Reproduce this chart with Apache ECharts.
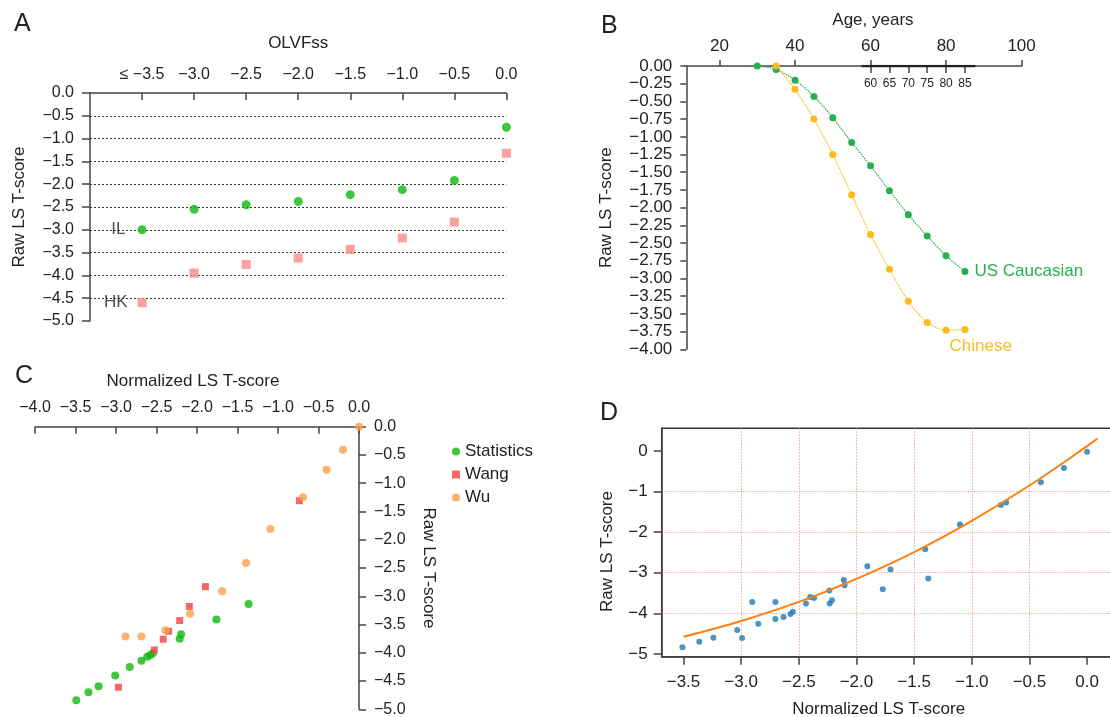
<!DOCTYPE html>
<html><head><meta charset="utf-8">
<script src="https://cdn.jsdelivr.net/npm/echarts@6.0.0/dist/echarts.min.js"></script>
<style>html,body{margin:0;padding:0;background:#fff}#chart{width:1110px;height:717px}</style>
</head><body><div id="chart"></div>
<script>
// ---------- Panel A ----------
const olvfssCategories = [-3.5, -3.0, -2.5, -2.0, -1.5, -1.0, -0.5, 0.0];
const ilValues = [-3.00, -2.55, -2.45, -2.38, -2.23, -2.12, -1.92, -0.75];
const hkValues = [-4.60, -3.95, -3.76, -3.62, -3.43, -3.18, -2.83, -1.32];
const panelAYTicks = [0, -0.5, -1.0, -1.5, -2.0, -2.5, -3.0, -3.5, -4.0, -4.5, -5.0];

// ---------- Panel B ----------
const usAges = [30, 35, 40, 45, 50, 55, 60, 65, 70, 75, 80, 85];
const usCaucasian = [0.00, -0.05, -0.20, -0.43, -0.73, -1.08, -1.41, -1.76, -2.10, -2.40, -2.68, -2.90];
const chineseAges = [35, 40, 45, 50, 55, 60, 65, 70, 75, 80, 85];
const chinese = [0.00, -0.33, -0.75, -1.25, -1.82, -2.38, -2.87, -3.32, -3.62, -3.73, -3.72];
const panelBXTicks = [20, 40, 60, 80, 100];
const panelBInsetTicks = [60, 65, 70, 75, 80, 85];
const panelBInsetSpan = [57.6, 87.7];
const panelBYTicks = [0, -0.25, -0.5, -0.75, -1, -1.25, -1.5, -1.75, -2, -2.25, -2.5, -2.75, -3, -3.25, -3.5, -3.75, -4];

// ---------- Panel C ----------
const statisticsX = [-3.49, -3.34, -3.215, -3.01, -2.83, -2.686, -2.615, -2.575, -2.545, -2.214, -2.196, -1.76, -1.363];
const statisticsY = [-4.84, -4.70, -4.59, -4.40, -4.25, -4.14, -4.07, -4.04, -4.01, -3.75, -3.67, -3.41, -3.135];
const wangX = [-2.97, -2.527, -2.417, -2.35, -2.214, -2.095, -1.896, -0.736];
const wangY = [-4.61, -3.95, -3.76, -3.62, -3.43, -3.18, -2.83, -1.31];
const wuX = [-2.884, -2.686, -2.39, -2.086, -1.69, -1.394, -1.094, -0.692, -0.40, -0.198, 0.0];
const wuY = [-3.71, -3.71, -3.60, -3.31, -2.91, -2.41, -1.81, -1.25, -0.76, -0.41, 0.0];
const panelCXTicks = [-4.0, -3.5, -3.0, -2.5, -2.0, -1.5, -1.0, -0.5, 0.0];
const panelCYTicks = [0, -0.5, -1.0, -1.5, -2.0, -2.5, -3.0, -3.5, -4.0, -4.5, -5.0];

// ---------- Panel D ----------
const dNormX = [-3.509, -3.363, -3.241, -3.034, -2.992, -2.904, -2.852, -2.703, -2.703, -2.633, -2.572, -2.551, -2.438, -2.402, -2.368, -2.235, -2.232, -2.213, -2.110, -2.103, -1.906, -1.772, -1.705, -1.404, -1.377, -1.103, -0.748, -0.702, -0.401, -0.201, 0.0];
const dRawY = [-4.84, -4.70, -4.60, -4.41, -4.61, -3.72, -4.26, -3.72, -4.14, -4.09, -4.02, -3.96, -3.76, -3.60, -3.62, -3.44, -3.76, -3.68, -3.18, -3.31, -2.84, -3.41, -2.92, -2.42, -3.14, -1.81, -1.33, -1.27, -0.77, -0.42, -0.02];
const fitX = [-3.5, -3.0, -2.5, -2.0, -1.5, -1.0, -0.5, 0.0, 0.09];
const fitY = [-4.58, -4.19, -3.72, -3.15, -2.49, -1.72, -0.85, 0.12, 0.31];
const panelDXTicks = [-3.5, -3.0, -2.5, -2.0, -1.5, -1.0, -0.5, 0.0];
const panelDYTicks = [0, -1, -2, -3, -4, -5];

const zip = (a, b) => a.map((v, i) => [v, b[i]]);
const fmt = d => v => (v < -1e-9 ? '\u2212' : '') + Math.abs(v).toFixed(d);
const FONT = 'Liberation Sans, Arial, Helvetica, sans-serif';
const TXT = '#222';
const AX = { show: true, onZero: false, lineStyle: { color: '#444', width: 1.5 } };
const TK = (len, inside, vals) => ({ show: true, inside: inside, length: len, customValues: vals, lineStyle: { color: '#444', width: 1.5 } });
const LB = (size, margin, vals, f) => ({ show: true, fontSize: size, color: TXT, margin: margin, customValues: vals, formatter: f, fontFamily: FONT });

const cA = '#0fb80f', cAred = '#f98a8a';
const cBg = '#25b04e', cBo = '#fbbb1a';
const cCg = '#10b810', cCr = '#f04444', cCo = '#fca04a';

const option = {
  animation: false,
  backgroundColor: '#fff',
  textStyle: { fontFamily: FONT, color: TXT },
  grid: [
    { left: 90, top: 93, width: 416.4, height: 228, outerBoundsMode: 'none' },
    { left: 686.3, top: 66, width: 335.3, height: 283.3, outerBoundsMode: 'none' },
    { left: 35, top: 426.7, width: 324, height: 282.6, outerBoundsMode: 'none' },
    { left: 661.7, top: 428.3, width: 460, height: 228.4, outerBoundsMode: 'none', show: true, borderColor: '#333', borderWidth: 1.5, backgroundColor: 'transparent' }
  ],
  xAxis: [
    { gridIndex: 0, type: 'value', position: 'top', min: -4, max: 0,
      name: 'OLVFss', nameLocation: 'middle', nameGap: 41, nameTextStyle: { fontSize: 17, color: TXT },
      axisLine: AX, axisTick: TK(7, true, olvfssCategories),
      axisLabel: LB(16, 10, olvfssCategories, v => v === olvfssCategories[0] ? '\u2264 ' + fmt(1)(v) : fmt(1)(v)),
      splitLine: { show: false } },
    { gridIndex: 1, type: 'value', position: 'top', min: 11.2, max: 100,
      name: 'Age, years', nameLocation: 'middle', nameGap: 37, nameTextStyle: { fontSize: 17, color: TXT, padding: [0, 0, 0, 38] },
      axisLine: AX, axisTick: TK(6, false, panelBXTicks),
      axisLabel: LB(17, 11, panelBXTicks, v => String(v)),
      splitLine: { show: false } },
    { gridIndex: 1, type: 'value', position: 'top', min: 11.2, max: 100,
      axisLine: { show: false, onZero: false }, axisTick: TK(7, true, panelBInsetTicks),
      axisLabel: Object.assign(LB(12, 12, panelBInsetTicks, v => String(v)), { inside: true }),
      splitLine: { show: false } },
    { gridIndex: 2, type: 'value', position: 'top', min: -4, max: 0, interval: 0.5,
      name: 'Normalized LS T-score', nameLocation: 'middle', nameGap: 37, nameTextStyle: { fontSize: 17, color: TXT, padding: [0, 8, 0, 0] },
      axisLine: AX, axisTick: TK(7, true, panelCXTicks),
      axisLabel: LB(16, 11, panelCXTicks, fmt(1)),
      splitLine: { show: false } },
    { gridIndex: 3, type: 'value', position: 'bottom', min: -3.689, max: 0.3,
      name: 'Normalized LS T-score', nameLocation: 'middle', nameGap: 44, nameTextStyle: { fontSize: 17, color: TXT, padding: [0, 26, 0, 0] },
      axisLine: AX, axisTick: TK(8, false, panelDXTicks),
      axisLabel: LB(17, 17, panelDXTicks, fmt(1)),
      splitLine: { show: true, showMinLine: false, showMaxLine: false, lineStyle: { color: '#f7a8a8', type: [1.5, 1.5], width: 1 } } }
  ],
  yAxis: [
    { gridIndex: 0, type: 'value', min: -5, max: 0, interval: 0.5,
      name: 'Raw LS T-score', nameLocation: 'middle', nameGap: 62, nameTextStyle: { fontSize: 17, color: TXT },
      axisLine: AX, axisTick: TK(8, false, panelAYTicks),
      axisLabel: LB(16, 16, panelAYTicks, fmt(1)),
      splitLine: { show: true, showMinLine: false, showMaxLine: false, lineStyle: { color: '#333', type: [2, 2], width: 1 } } },
    { gridIndex: 1, type: 'value', min: -4, max: 0, interval: 0.25,
      name: 'Raw LS T-score', nameLocation: 'middle', nameGap: 71, nameTextStyle: { fontSize: 17, color: TXT },
      axisLine: AX, axisTick: TK(6, false, panelBYTicks),
      axisLabel: LB(17, 14, panelBYTicks, fmt(2)),
      splitLine: { show: false } },
    { gridIndex: 2, type: 'value', position: 'right', min: -5, max: 0, interval: 0.5,
      name: 'Raw LS T-score', nameLocation: 'middle', nameGap: 61, nameRotate: -90, nameTextStyle: { fontSize: 17, color: TXT },
      axisLine: AX, axisTick: TK(7, false, panelCYTicks),
      axisLabel: LB(16, 15, panelCYTicks, fmt(1)),
      splitLine: { show: false } },
    { gridIndex: 3, type: 'value', min: -5.07, max: 0.56,
      name: 'Raw LS T-score', nameLocation: 'middle', nameGap: 46, nameTextStyle: { fontSize: 17, color: TXT, padding: [0, 18, 0, 0] },
      axisLine: AX, axisTick: TK(8, false, panelDYTicks),
      axisLabel: LB(17, 14, panelDYTicks, fmt(0)),
      splitLine: { show: true, showMinLine: false, showMaxLine: false, lineStyle: { color: '#f7a8a8', type: [1.5, 1.5], width: 1 } } }
  ],
  legend: {
    data: ['Statistics', 'Wang', 'Wu'], orient: 'vertical', left: 447, top: 438,
    itemWidth: 8, itemHeight: 8, itemGap: 6, textStyle: { fontSize: 17, color: TXT }
  },
  graphic: [
    { type: 'text', left: 14, top: 12, style: { text: 'A', fontSize: 25, fill: TXT, fontFamily: FONT } },
    { type: 'text', left: 601, top: 14, style: { text: 'B', fontSize: 25, fill: TXT, fontFamily: FONT } },
    { type: 'text', left: 15, top: 364, style: { text: 'C', fontSize: 25, fill: TXT, fontFamily: FONT } },
    { type: 'text', left: 600, top: 401, style: { text: 'D', fontSize: 25, fill: TXT, fontFamily: FONT } }
  ],
  series: [
    { name: 'IL', type: 'scatter', xAxisIndex: 0, yAxisIndex: 0, data: zip(olvfssCategories, ilValues),
      symbol: 'circle', symbolSize: 9, itemStyle: { color: cA },
      label: { show: true, position: 'left', distance: 12, fontSize: 17, color: TXT, formatter: p => p.dataIndex === 0 ? 'IL' : '' } },
    { name: 'HK', type: 'scatter', xAxisIndex: 0, yAxisIndex: 0, data: zip(olvfssCategories, hkValues),
      symbol: 'rect', symbolSize: 9, itemStyle: { color: cAred },
      label: { show: true, position: 'left', distance: 10, fontSize: 17, color: TXT, formatter: p => p.dataIndex === 0 ? 'HK' : '' } },
    { name: 'InsetAxis', type: 'line', xAxisIndex: 1, yAxisIndex: 1, data: panelBInsetSpan.map(v => [v, 0]),
      symbol: 'none', silent: true, lineStyle: { color: '#222', width: 2.5 }, z: 1 },
    { name: 'US Caucasian', type: 'line', xAxisIndex: 1, yAxisIndex: 1, data: zip(usAges, usCaucasian),
      smooth: 0.3, symbol: 'circle', symbolSize: 7, itemStyle: { color: cBg }, lineStyle: { color: cBg, width: 1.2, type: [1.5, 1] },
      label: { show: true, position: 'right', distance: 6, fontSize: 17, color: cBg, formatter: p => p.dataIndex === usAges.length - 1 ? 'US Caucasian' : '' } },
    { name: 'Chinese', type: 'line', xAxisIndex: 1, yAxisIndex: 1, data: zip(chineseAges, chinese),
      smooth: 0.3, symbol: 'circle', symbolSize: 7, itemStyle: { color: cBo }, lineStyle: { color: cBo, width: 1.2, type: [1.5, 1] },
      label: { show: true, position: [-12, 20], verticalAlign: 'middle', align: 'left', fontSize: 17, color: cBo, formatter: p => p.dataIndex === chineseAges.length - 1 ? 'Chinese' : '' } },
    { name: 'Statistics', type: 'scatter', xAxisIndex: 3, yAxisIndex: 2, data: zip(statisticsX, statisticsY),
      symbol: 'circle', symbolSize: 8, itemStyle: { color: cCg } },
    { name: 'Wang', type: 'scatter', xAxisIndex: 3, yAxisIndex: 2, data: zip(wangX, wangY),
      symbol: 'rect', symbolSize: 7, itemStyle: { color: cCr } },
    { name: 'Wu', type: 'scatter', xAxisIndex: 3, yAxisIndex: 2, data: zip(wuX, wuY),
      symbol: 'circle', symbolSize: 8, itemStyle: { color: cCo } },
    { name: 'Observed', type: 'scatter', xAxisIndex: 4, yAxisIndex: 3, data: zip(dNormX, dRawY),
      symbol: 'circle', symbolSize: 6, itemStyle: { color: '#1f77b4' } },
    { name: 'Fit', type: 'line', xAxisIndex: 4, yAxisIndex: 3, data: zip(fitX, fitY),
      smooth: 0.4, symbol: 'none', lineStyle: { color: '#ff7f0e', width: 2 } }
  ]
};
const chart = echarts.init(document.getElementById('chart'), null, { renderer: 'canvas' });
chart.setOption(option);
</script>
</body></html>
